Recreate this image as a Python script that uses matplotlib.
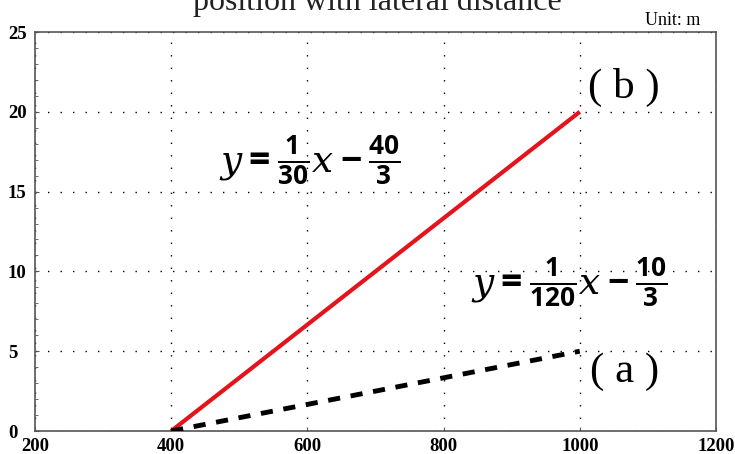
import matplotlib
matplotlib.use("Agg")
import matplotlib.pyplot as plt
from matplotlib.ticker import MultipleLocator

# 數據：兩條直線的端點
x_pts = [400, 1000]
y_b = [0, 20]
y_a = [0, 5]
x_ticks = [200, 400, 600, 800, 1000, 1200]
y_ticks = [0, 5, 10, 15, 20, 25]

plt.rcParams["mathtext.fontset"] = "custom"
plt.rcParams["mathtext.rm"] = "Open Sans:bold"
plt.rcParams["mathtext.it"] = "DejaVu Serif:italic"
plt.rcParams["mathtext.bf"] = "Open Sans:bold"

fig = plt.figure(figsize=(7.35, 4.54), dpi=100)
ax = fig.add_axes([35 / 735, 23 / 454, 681 / 735, 399 / 454])

ax.plot(x_pts, y_b, color="#e3141b", linewidth=3, solid_capstyle="butt", zorder=3)
ax.plot(x_pts, y_a, color="black", linewidth=3.5, linestyle=(0, (2.5, 2.2)), zorder=3)

ax.set_xlim(200, 1200)
ax.set_ylim(0, 25)
ax.set_xticks(x_ticks)
ax.set_yticks(y_ticks)
ax.yaxis.set_minor_locator(MultipleLocator(1))
ax.grid(True, which="major", color="black", linestyle=(0, (1, 8)), linewidth=1.0)
ax.tick_params(which="major", direction="in", length=3, width=0.8, color="#555555")
ax.tick_params(which="minor", direction="in", length=2, width=0.6, color="#555555")
ax.tick_params(axis="x", pad=5)
ax.tick_params(axis="y", pad=19.5)
for lbl in ax.get_xticklabels() + ax.get_yticklabels():
    lbl.set_fontfamily("Liberation Serif")
    lbl.set_fontweight("bold")
    lbl.set_fontsize(13.5)
for lbl in ax.get_yticklabels():
    lbl.set_horizontalalignment("left")
for s in ax.spines.values():
    s.set_color("#555555")
    s.set_linewidth(1.2)

ax.text(603, 17.0, r"$y=\frac{1}{30}x-\frac{40}{3}$", fontsize=27, ha="center", va="center")
ax.text(985, 9.3, r"$y=\frac{1}{120}x-\frac{10}{3}$", fontsize=27, ha="center", va="center")
ax.text(1065, 21.5, "( b )", fontsize=31, family="Liberation Serif", ha="center", va="center")
ax.text(1065, 3.7, "( a )", fontsize=31, family="Liberation Serif", ha="center", va="center")

fig.text(0.514, 0.995, "position with lateral distance", fontsize=23, family="Liberation Serif",
         ha="center", va="center", color="#222222")
fig.text(0.953, 0.955, "Unit: m", fontsize=13, family="Liberation Serif", ha="right", va="center")

fig.savefig("out.png", dpi=100)
